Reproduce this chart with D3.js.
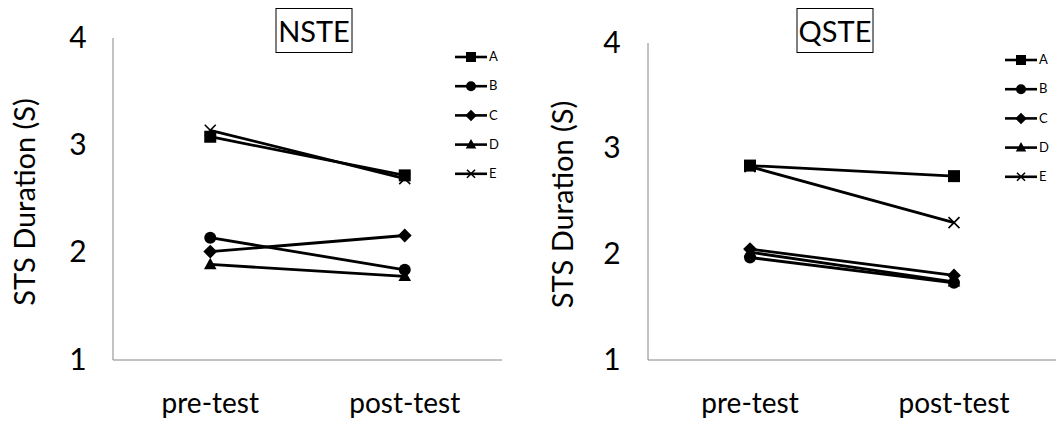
<!DOCTYPE html>
<html>
<head>
<meta charset="utf-8">
<script src="https://cdn.jsdelivr.net/npm/d3@7"></script>
<style>
  html, body { margin: 0; padding: 0; background: #fff; }
  svg { display: block; }
  text { font-family: Lato, "Open Sans", sans-serif; fill: #000; }
</style>
</head>
<body>
<div id="chart"></div>
<script>
// ---- data ----
const categories = ["pre-test", "post-test"];
const seriesNames = ["A", "B", "C", "D", "E"];
const nsteValues = [
  [3.08, 2.72],  // A
  [2.14, 1.84],  // B
  [2.01, 2.16],  // C
  [1.89, 1.78],  // D
  [3.14, 2.69]   // E
];
const qsteValues = [
  [2.84, 2.74],  // A
  [1.97, 1.73],  // B
  [2.05, 1.80],  // C
  [2.02, 1.74],  // D
  [2.83, 2.30]   // E
];
const yTicks = [1, 2, 3, 4];
const panelTitles = ["NSTE", "QSTE"];
const yAxisTitle = "STS Duration (S)";

// ---- layout ----
const W = 1062, H = 426;
const svg = d3.select("#chart").append("svg").attr("width", W).attr("height", H);

const panels = [
  { title: panelTitles[0], values: nsteValues, x0: 113, x1: 502, yTop: 38, yBot: 360,
    tickX: 78, labelX: 35, titleCx: 314, legX: 455, legY: 57 },
  { title: panelTitles[1], values: qsteValues, x0: 648, x1: 1056, yTop: 43, yBot: 360,
    tickX: 612, labelX: 573, titleCx: 835, legX: 1005, legY: 60 }
];

const shapes = ["square", "circle", "diamond", "triangle", "x"];

function markerPath(shape, s) {
  const h = s / 2;
  switch (shape) {
    case "square": return `M${-h},${-h}H${h}V${h}H${-h}Z`;
    case "circle": return d3.arc()({innerRadius: 0, outerRadius: h, startAngle: 0, endAngle: 2 * Math.PI});
    case "diamond": return `M0,${-h * 1.15}L${h * 1.15},0L0,${h * 1.15}L${-h * 1.15},0Z`;
    case "triangle": return `M0,${-h * 1.1}L${h * 1.05},${h * 0.8}L${-h * 1.05},${h * 0.8}Z`;
    case "x": return `M${-h},${-h}L${h},${h}M${-h},${h}L${h},${-h}`;
  }
}
function styleMarker(sel, shape) {
  if (shape === "x") sel.attr("fill", "none").attr("stroke", "#000").attr("stroke-width", 1.6);
  else sel.attr("fill", "#000").attr("stroke", "none");
}

panels.forEach(p => {
  const g = svg.append("g");
  const x = d3.scaleBand().domain(categories).range([p.x0, p.x1]).padding(0);
  const y = d3.scaleLinear().domain([1, 4]).range([p.yBot, p.yTop]);
  const cx = c => x(c) + x.bandwidth() / 2;

  // axes lines
  g.append("line").attr("x1", p.x0).attr("x2", p.x0).attr("y1", y(4)).attr("y2", y(1))
    .attr("stroke", "#868686").attr("stroke-width", 1);
  g.append("line").attr("x1", p.x0).attr("x2", p.x1).attr("y1", y(1)).attr("y2", y(1))
    .attr("stroke", "#868686").attr("stroke-width", 1);

  // y tick labels
  g.selectAll(".yt").data(yTicks).enter().append("text")
    .attr("x", p.tickX).attr("y", d => y(d) + 2)
    .attr("text-anchor", "middle").attr("dominant-baseline", "middle")
    .style("font-size", "30px").text(d => d);

  // category labels
  g.selectAll(".xt").data(categories).enter().append("text")
    .attr("x", d => cx(d)).attr("y", 413)
    .attr("text-anchor", "middle")
    .style("font-size", "28px").text(d => d);

  // y-axis title
  g.append("text")
    .attr("transform", `translate(${p.labelX},${(p.yTop + p.yBot) / 2 + 3}) rotate(-90)`)
    .attr("text-anchor", "middle")
    .style("font-size", "29px").text(yAxisTitle);

  // panel title box
  g.append("rect").attr("x", p.titleCx - 38).attr("y", 8.5).attr("width", 76).attr("height", 44)
    .attr("fill", "#fff").attr("stroke", "#000").attr("stroke-width", 1);
  g.append("text").attr("x", p.titleCx).attr("y", 42)
    .attr("text-anchor", "middle").style("font-size", "29px").text(p.title);

  // series lines & markers
  const line = d3.line().x((d, i) => cx(categories[i])).y(d => y(d));
  p.values.forEach(vals => {
    g.append("path").attr("d", line(vals)).attr("fill", "none")
      .attr("stroke", "#000").attr("stroke-width", 2.8);
  });
  p.values.forEach((vals, si) => {
    vals.forEach((v, i) => {
      const m = g.append("path").attr("d", markerPath(shapes[si], si === 4 ? 11 : 12))
        .attr("transform", `translate(${cx(categories[i])},${y(v)})`);
      styleMarker(m, shapes[si]);
    });
  });

  // legend
  seriesNames.forEach((name, si) => {
    const ly = p.legY + si * 29.2;
    g.append("line").attr("x1", p.legX).attr("x2", p.legX + 32).attr("y1", ly).attr("y2", ly)
      .attr("stroke", "#000").attr("stroke-width", 2.6);
    const m = g.append("path").attr("d", markerPath(shapes[si], si === 4 ? 8 : 10))
      .attr("transform", `translate(${p.legX + 16},${ly})`);
    styleMarker(m, shapes[si]);
    g.append("text").attr("x", p.legX + 34).attr("y", ly + 1)
      .attr("dominant-baseline", "middle").style("font-size", "13px").text(name);
  });
});
</script>
</body>
</html>
